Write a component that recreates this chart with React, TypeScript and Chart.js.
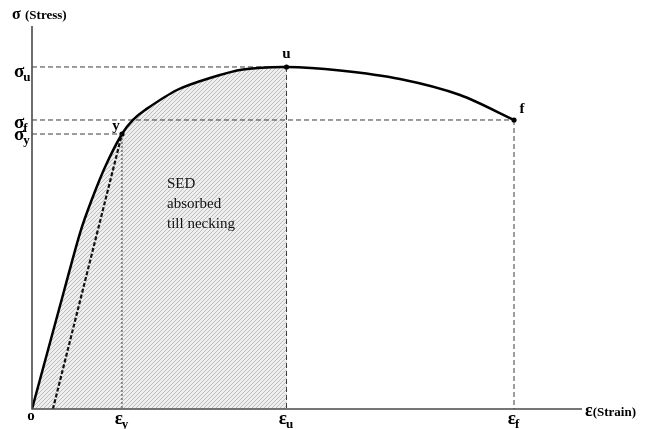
import React, { useEffect, useRef } from "react";
import { Chart, registerables } from "chart.js";

// Stress–strain curve (strain in arbitrary units 0..100, stress 0..100)
const curveStrain = [0, 2.91, 5.82, 8.73, 10.91, 13.45, 16.36, 18.36, 20.55, 26.36, 32.36, 38.36, 46.27, 56.0, 66.91, 77.82, 87.64];
const curveStress = [0, 15.4, 30.81, 45.95, 54.83, 63.71, 71.8, 75.46, 78.07, 83.29, 86.42, 88.64, 89.3, 88.38, 86.16, 81.98, 75.46];

// key points
const epsY = 16.36, epsU = 46.27, epsF = 87.64;
const sigY = 71.8, sigU = 89.3, sigF = 75.46;
const offsetStart = 3.8;
const markedIdx = [6, 12, 16];
const HATCH_INDEX = 8;

// clip the hatched fill to strain <= epsU (registered before the Filler so it wraps the fill)
const hatchClip = {
  id: "hatchClip",
  beforeDatasetDraw(chart: any, args: any) {
    if (args.index !== HATCH_INDEX) return;
    const ctx = chart.ctx;
    const a = chart.chartArea;
    const xr = chart.scales.x.getPixelForValue(epsU);
    ctx.save();
    ctx.beginPath();
    ctx.rect(a.left - 5, a.top - 5, xr - a.left + 5, a.bottom - a.top + 10);
    ctx.clip();
  },
  afterDatasetDraw(chart: any, args: any) {
    if (args.index !== HATCH_INDEX) return;
    chart.ctx.restore();
  },
};
Chart.register(hatchClip);
Chart.register(...registerables);

const SERIF = "'Liberation Serif', 'Times New Roman', serif";

function makePattern(): CanvasPattern | string {
  const c = document.createElement("canvas");
  c.width = 4;
  c.height = 4;
  const g = c.getContext("2d");
  if (!g) return "#eeeeee";
  g.fillStyle = "#efefef";
  g.fillRect(0, 0, 4, 4);
  g.strokeStyle = "#bdbdbd";
  g.lineWidth = 1;
  g.beginPath();
  g.moveTo(-1, 5);
  g.lineTo(5, -1);
  g.moveTo(-1, 1);
  g.lineTo(1, -1);
  g.moveTo(3, 5);
  g.lineTo(5, 3);
  g.stroke();
  const p = g.createPattern(c, "repeat");
  return p || "#eeeeee";
}

const pts = (xs: number[], ys: number[]) => xs.map((x, i) => ({ x, y: ys[i] }));

export default function App() {
  const ref = useRef<HTMLCanvasElement>(null);
  useEffect(() => {
    const canvas = ref.current;
    if (!canvas) return;
    const pattern = makePattern();
    const curve = pts(curveStrain, curveStress);
    const dashLine = (data: { x: number; y: number }[], dash: number[], width = 1, color = "#3a3a3a") => ({
      data,
      showLine: true,
      borderColor: color,
      borderWidth: width,
      borderDash: dash,
      pointRadius: 0,
      tension: 0,
      fill: false,
      order: 1,
    });

    const labelsPlugin = {
      id: "labels",
      afterDatasetsDraw(chart: any) {
        const ctx = chart.ctx as CanvasRenderingContext2D;
        const xs = chart.scales.x;
        const ys = chart.scales.y;
        const area = chart.chartArea;
        const X = (v: number) => xs.getPixelForValue(v);
        const Y = (v: number) => ys.getPixelForValue(v);
        ctx.save();
        // axes
        ctx.strokeStyle = "#4a4a4a";
        ctx.lineWidth = 1.6;
        ctx.beginPath();
        ctx.moveTo(X(0), area.top);
        ctx.lineTo(X(0), Y(0));
        ctx.lineTo(area.right, Y(0));
        ctx.stroke();

        ctx.fillStyle = "#000";
        ctx.textBaseline = "alphabetic";
        const sub = (main: string, s: string, x: number, y: number, size = 19, subSize = 13, align: "left" | "center" = "left") => {
          ctx.font = `bold ${size}px ${SERIF}`;
          const w1 = ctx.measureText(main).width;
          ctx.font = `bold ${subSize}px ${SERIF}`;
          const w2 = ctx.measureText(s).width;
          const x0 = align === "center" ? x - (w1 + w2) / 2 : x;
          ctx.font = `bold ${size}px ${SERIF}`;
          ctx.textAlign = "left";
          ctx.fillText(main, x0, y);
          ctx.font = `bold ${subSize}px ${SERIF}`;
          ctx.fillText(s, x0 + w1 - 1, y + 4);
        };
        // y axis title
        ctx.textAlign = "left";
        ctx.font = `bold 16px ${SERIF}`;
        ctx.fillText("σ", 12, 19);
        ctx.font = `bold 13px ${SERIF}`;
        ctx.fillText("(Stress)", 25, 19);
        // y labels
        sub("σ", "u", 14, 77);
        sub("σ", "f", 14, 128);
        sub("σ", "y", 14, 140);
        // x labels
        ctx.font = `bold 15px ${SERIF}`;
        ctx.textAlign = "center";
        ctx.fillText("o", X(0) - 1, 420);
        sub("ε", "y", X(epsY), 424, 19, 13, "center");
        sub("ε", "u", X(epsU), 424, 19, 13, "center");
        sub("ε", "f", X(epsF), 424, 19, 13, "center");
        ctx.textAlign = "left";
        ctx.font = `bold 18px ${SERIF}`;
        ctx.fillText("ε", 585, 416);
        const we = ctx.measureText("ε").width;
        ctx.font = `bold 13px ${SERIF}`;
        ctx.fillText("(Strain)", 585 + we, 416);
        // point labels
        ctx.font = `bold 15px ${SERIF}`;
        ctx.textAlign = "center";
        ctx.fillText("u", X(epsU), 58);
        ctx.fillText("y", X(epsY) - 6, 130);
        ctx.fillText("f", X(epsF) + 8, 113);
        // SED text
        ctx.font = `15px ${SERIF}`;
        ctx.textAlign = "left";
        ctx.fillStyle = "#111";
        ctx.fillText("SED", 167, 188);
        ctx.fillText("absorbed", 167, 208);
        ctx.fillText("till necking", 167, 228);
        ctx.restore();
      },
    };

    const chart = new Chart(canvas, {
      type: "scatter",
      data: {
        datasets: [
          {
            data: curve,
            showLine: true,
            borderColor: "#000",
            borderWidth: 2.5,
            tension: 0.3,
            pointRadius: curve.map((_, i) => (markedIdx.includes(i) ? 2.6 : 0)),
            pointBackgroundColor: "#000",
            pointBorderWidth: 0,
            fill: false,
            order: 0,
          } as any,
          dashLine([{ x: 0, y: sigU }, { x: epsU, y: sigU }], [5, 3]),
          dashLine([{ x: 0, y: sigF }, { x: epsF, y: sigF }], [5, 3]),
          dashLine([{ x: 0, y: sigY }, { x: epsY, y: sigY }], [5, 3]),
          dashLine([{ x: epsU, y: sigU }, { x: epsU, y: 0 }], [5, 3]),
          dashLine([{ x: epsF, y: sigF }, { x: epsF, y: 0 }], [5, 3]),
          dashLine([{ x: epsY, y: sigY }, { x: epsY, y: 0 }], [2, 2], 1, "#333"),
          dashLine([{ x: offsetStart, y: 0 }, { x: epsY, y: sigY }], [4, 2], 2.2, "#111"),
          {
            data: curve,
            showLine: true,
            borderWidth: 0,
            borderColor: "rgba(0,0,0,0)",
            backgroundColor: pattern,
            tension: 0.3,
            pointRadius: 0,
            fill: "origin",
            order: 2,
          } as any,
        ],
      },
      options: {
        animation: false,
        responsive: false,
        maintainAspectRatio: false,
        layout: { padding: { left: 32, right: 68, top: 26, bottom: 20 } },
        plugins: { legend: { display: false }, tooltip: { enabled: false } },
        scales: {
          x: { type: "linear", min: 0, max: 100, display: false },
          y: { type: "linear", min: 0, max: 100, display: false },
        },
      },
      plugins: [labelsPlugin],
    });
    return () => chart.destroy();
  }, []);
  return (
    <div style={{ position: "fixed", left: 0, top: 0, width: 650, height: 429, background: "#fff" }}>
      <canvas ref={ref} width={650} height={429} style={{ display: "block" }} />
    </div>
  );
}
